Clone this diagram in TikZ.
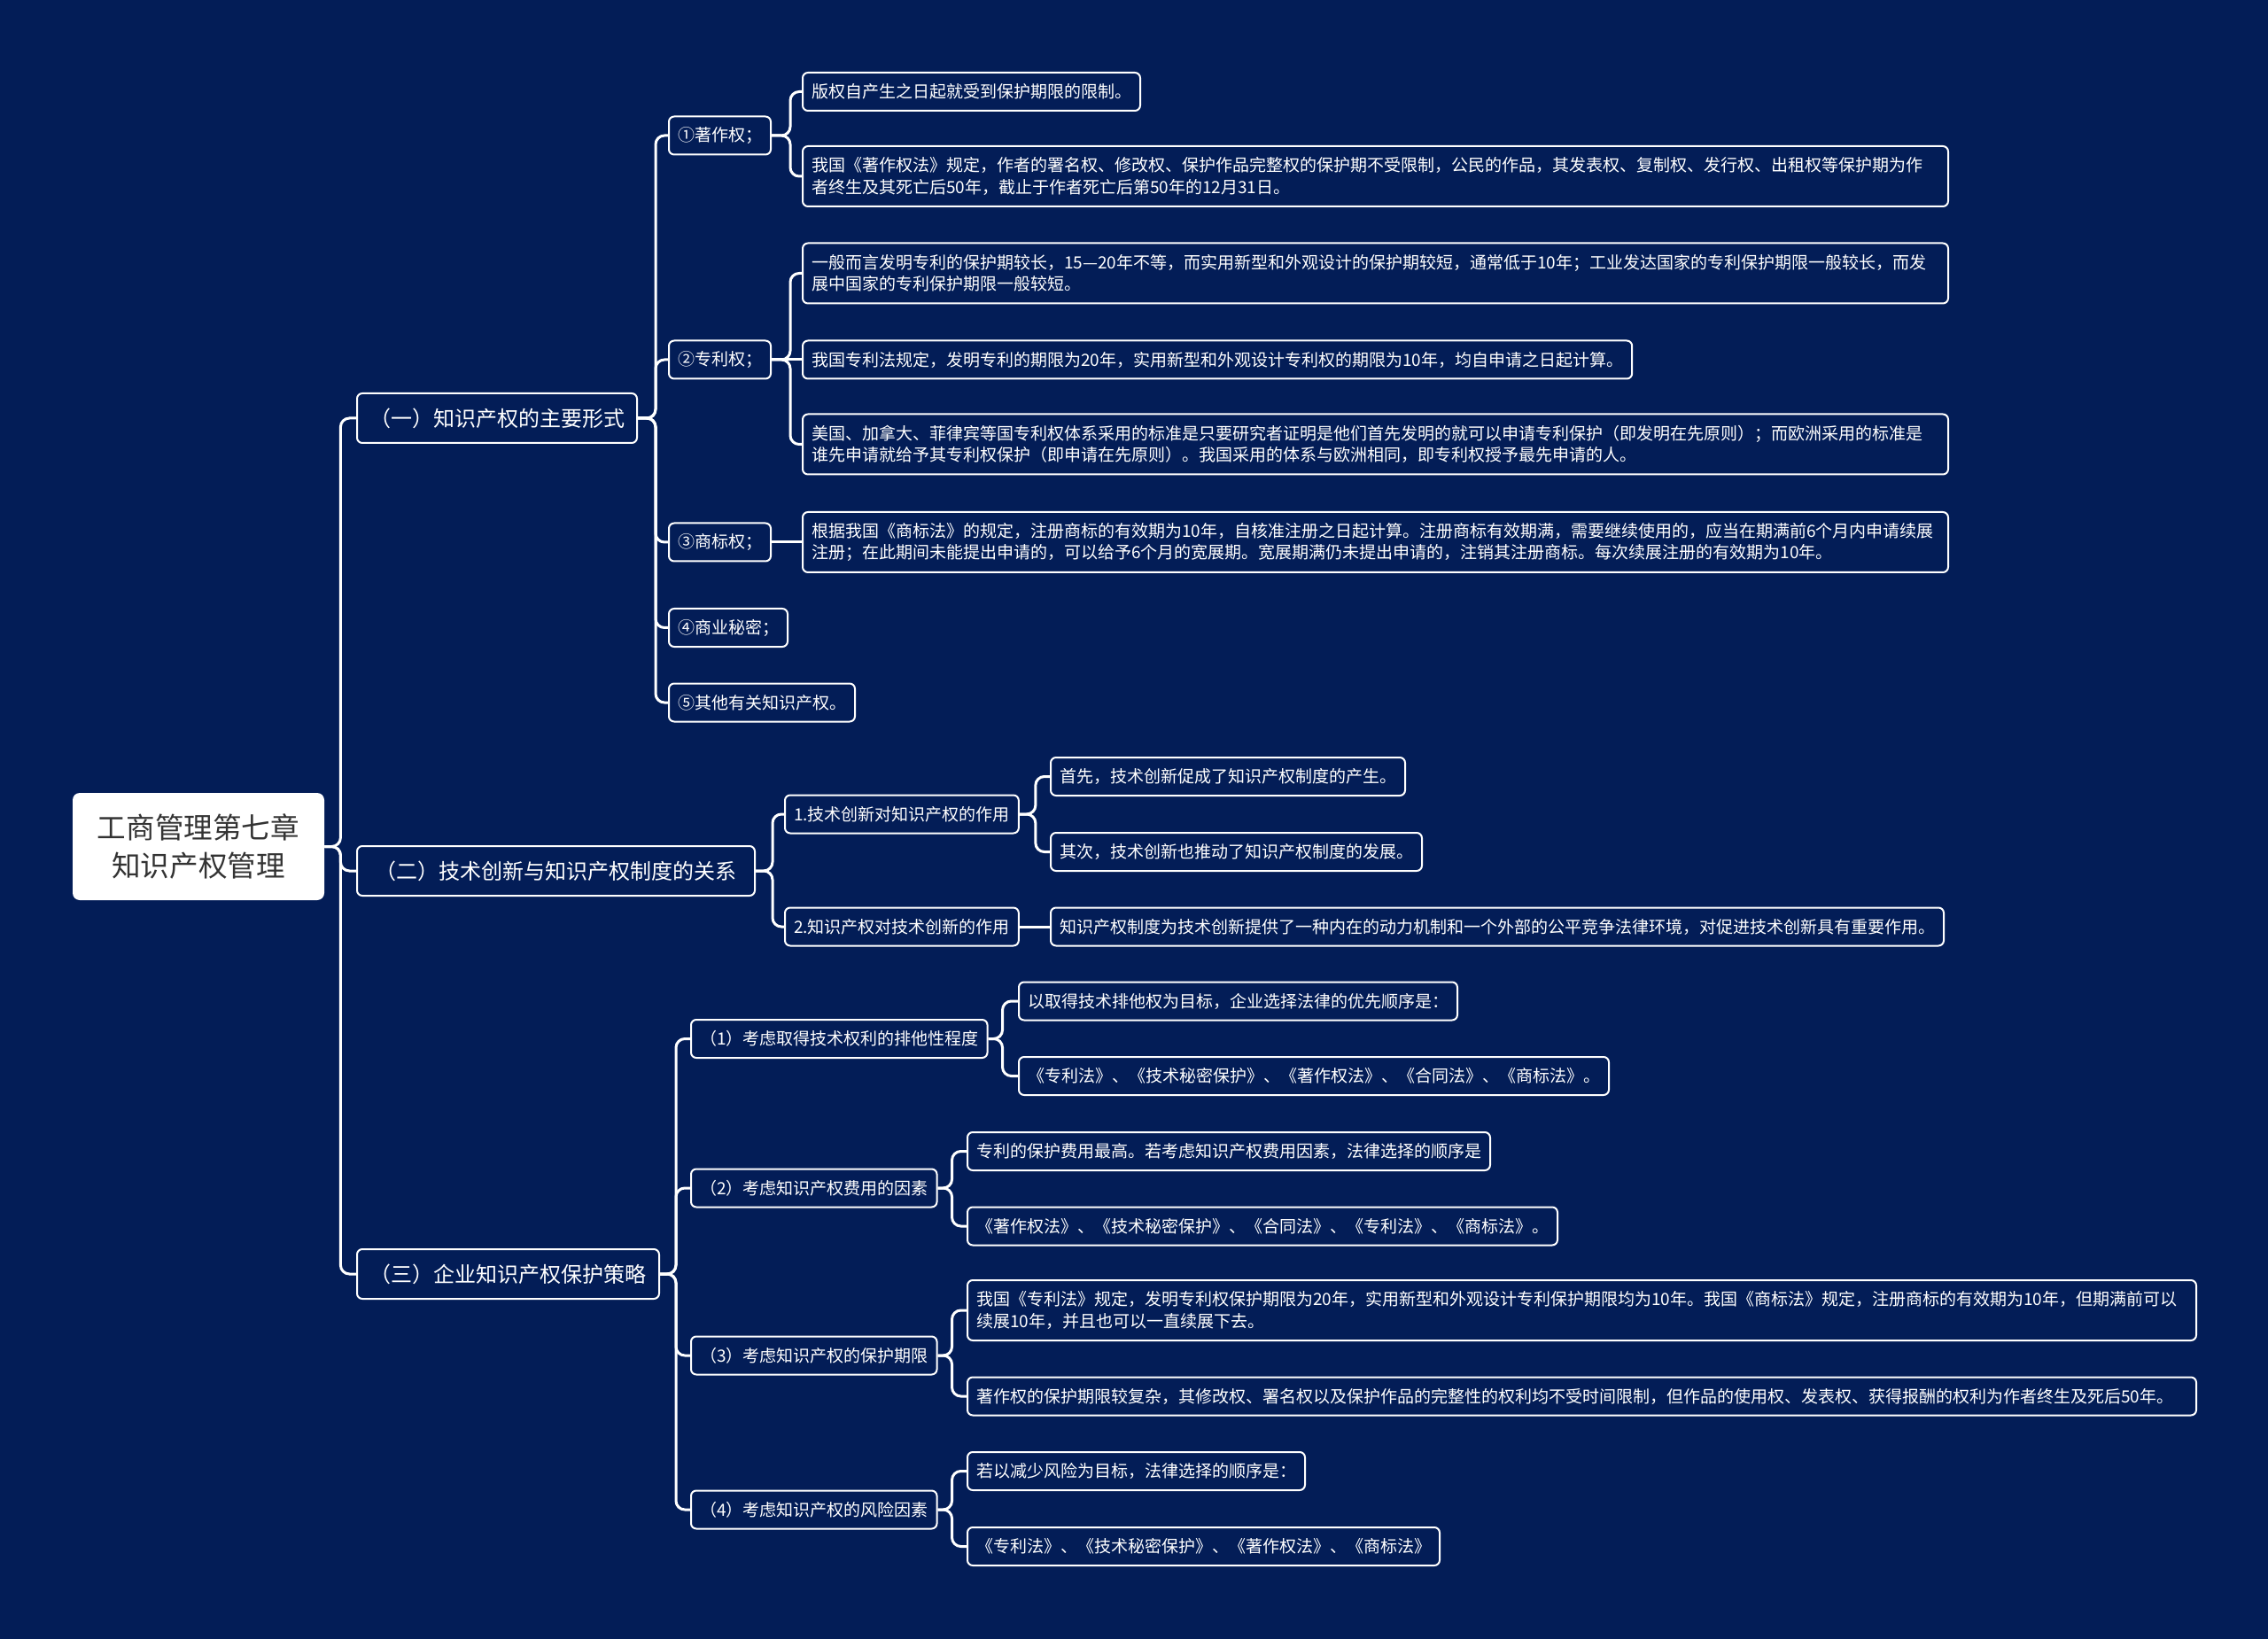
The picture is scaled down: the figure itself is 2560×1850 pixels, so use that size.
\documentclass[tikz,border=0pt]{standalone}
\usepackage{fontspec}
\setmainfont{Noto Sans CJK SC}
\definecolor{bg}{RGB}{3,29,87}
\definecolor{roottext}{RGB}{51,51,51}
\tikzset{
  mmbox/.style={draw=white, line width=1pt, fill=bg, text=white, rounded corners=3pt,
    anchor=west, inner xsep=5pt, inner ysep=0pt, align=left,
    font=\fontsize{9.5}{12.2}\selectfont, minimum height=21.5pt},
  mmtwo/.style={mmbox, minimum height=34pt, text width=#1},
  mmone/.style={mmbox, font=\fontsize{12}{14}\selectfont, minimum height=28pt, inner xsep=6pt, minimum width=#1},
  mmroot/.style={fill=white, text=roottext, rounded corners=4pt, align=center,
    font=\fontsize{16.3}{21.2}\selectfont, minimum width=142pt, minimum height=60.5pt, inner sep=0pt},
  conn/.style={draw=white, line width=1.5pt, rounded corners=5pt},
}
\begin{document}
\begin{tikzpicture}[x=0.5pt,y=-0.5pt]
\useasboundingbox (0,0) rectangle (2560,1850);
\fill[bg] (0,0) rectangle (2560,1850);

% root
\node[mmroot] (root) at (224,955.5) {工商管理第七章\\知识产权管理};

% level 1
\node[mmone=158pt] (A) at (402,472) {（一）知识产权的主要形式};
\node[mmone=224.5pt] (B) at (402,983) {（二）技术创新与知识产权制度的关系};
\node[mmone=170.5pt] (C) at (402,1438) {（三）企业知识产权保护策略};

% A children
\node[mmbox] (A1) at (754,153) {①著作权；};
\node[mmbox] (A2) at (754,406) {②专利权；};
\node[mmbox] (A3) at (754,612) {③商标权；};
\node[mmbox] (A4) at (754,708.5) {④商业秘密；};
\node[mmbox] (A5) at (754,793) {⑤其他有关知识产权。};

\node[mmbox] (A1a) at (905,103.5) {版权自产生之日起就受到保护期限的限制。};
\node[mmtwo=636.5pt] (A1b) at (905,199) {我国《著作权法》规定，作者的署名权、修改权、保护作品完整权的保护期不受限制，公民的作品，其发表权、复制权、发行权、出租权等保护期为作\\者终生及其死亡后50年，截止于作者死亡后第50年的12月31日。};

\node[mmtwo=636.5pt] (A2a) at (905,308.5) {一般而言发明专利的保护期较长，15—20年不等，而实用新型和外观设计的保护期较短，通常低于10年；工业发达国家的专利保护期限一般较长，而发\\展中国家的专利保护期限一般较短。};
\node[mmbox] (A2b) at (905,406) {我国专利法规定，发明专利的期限为20年，实用新型和外观设计专利权的期限为10年，均自申请之日起计算。};
\node[mmtwo=636.5pt] (A2c) at (905,501.5) {美国、加拿大、菲律宾等国专利权体系采用的标准是只要研究者证明是他们首先发明的就可以申请专利保护（即发明在先原则）；而欧洲采用的标准是\\谁先申请就给予其专利权保护（即申请在先原则）。我国采用的体系与欧洲相同，即专利权授予最先申请的人。};

\node[mmtwo=636.5pt] (A3a) at (905,612) {根据我国《商标法》的规定，注册商标的有效期为10年，自核准注册之日起计算。注册商标有效期满，需要继续使用的，应当在期满前6个月内申请续展\\注册；在此期间未能提出申请的，可以给予6个月的宽展期。宽展期满仍未提出申请的，注销其注册商标。每次续展注册的有效期为10年。};

% B children
\node[mmbox] (B1) at (885,919) {1.技术创新对知识产权的作用};
\node[mmbox] (B2) at (885,1046) {2.知识产权对技术创新的作用};
\node[mmbox] (B1a) at (1185,876.5) {首先，技术创新促成了知识产权制度的产生。};
\node[mmbox] (B1b) at (1185,961.5) {其次，技术创新也推动了知识产权制度的发展。};
\node[mmbox] (B2a) at (1185,1046) {知识产权制度为技术创新提供了一种内在的动力机制和一个外部的公平竞争法律环境，对促进技术创新具有重要作用。};

% C children
\node[mmbox] (C1) at (779,1172.5) {（1）考虑取得技术权利的排他性程度};
\node[mmbox] (C2) at (779,1341) {（2）考虑知识产权费用的因素};
\node[mmbox] (C3) at (779,1530) {（3）考虑知识产权的保护期限};
\node[mmbox] (C4) at (779,1704) {（4）考虑知识产权的风险因素};

\node[mmbox] (C1a) at (1149,1130) {以取得技术排他权为目标，企业选择法律的优先顺序是：};
\node[mmbox] (C1b) at (1149,1214.5) {《专利法》、《技术秘密保护》、《著作权法》、《合同法》、《商标法》。};
\node[mmbox] (C2a) at (1091,1299.5) {专利的保护费用最高。若考虑知识产权费用因素，法律选择的顺序是};
\node[mmbox] (C2b) at (1091,1384) {《著作权法》、《技术秘密保护》、《合同法》、《专利法》、《商标法》。};
\node[mmtwo=683.5pt] (C3a) at (1091,1479) {我国《专利法》规定，发明专利权保护期限为20年，实用新型和外观设计专利保护期限均为10年。我国《商标法》规定，注册商标的有效期为10年，但期满前可以\\续展10年，并且也可以一直续展下去。};
\node[mmbox, text width=683.5pt] (C3b) at (1091,1576) {著作权的保护期限较复杂，其修改权、署名权以及保护作品的完整性的权利均不受时间限制，但作品的使用权、发表权、获得报酬的权利为作者终生及死后50年。};
\node[mmbox] (C4a) at (1091,1660.5) {若以减少风险为目标，法律选择的顺序是：};
\node[mmbox] (C4b) at (1091,1745.5) {《专利法》、《技术秘密保护》、《著作权法》、《商标法》};

% connectors
\foreach \c in {A,B,C} \draw[conn] (root.east) -- ++(18,0) |- (\c.west);
\foreach \c in {A1,A2,A3,A4,A5} \draw[conn] (A.east) -- ++(20,0) |- (\c.west);
\foreach \c in {A1a,A1b} \draw[conn] (A1.east) -- ++(21,0) |- (\c.west);
\foreach \c in {A2a,A2c} \draw[conn] (A2.east) -- ++(21,0) |- (\c.west);
\draw[conn] (A2.east) -- (A2b.west);
\draw[conn] (A3.east) -- (A3a.west);
\foreach \c in {B1,B2} \draw[conn] (B.east) -- ++(19,0) |- (\c.west);
\foreach \c in {B1a,B1b} \draw[conn] (B1.east) -- ++(18,0) |- (\c.west);
\draw[conn] (B2.east) -- (B2a.west);
\foreach \c in {C1,C2,C3,C4} \draw[conn] (C.east) -- ++(18,0) |- (\c.west);
\foreach \c in {C1a,C1b} \draw[conn] (C1.east) -- ++(16,0) |- (\c.west);
\foreach \c in {C2a,C2b} \draw[conn] (C2.east) -- ++(16,0) |- (\c.west);
\foreach \c in {C3a,C3b} \draw[conn] (C3.east) -- ++(16,0) |- (\c.west);
\foreach \c in {C4a,C4b} \draw[conn] (C4.east) -- ++(16,0) |- (\c.west);
\end{tikzpicture}
\end{document}
